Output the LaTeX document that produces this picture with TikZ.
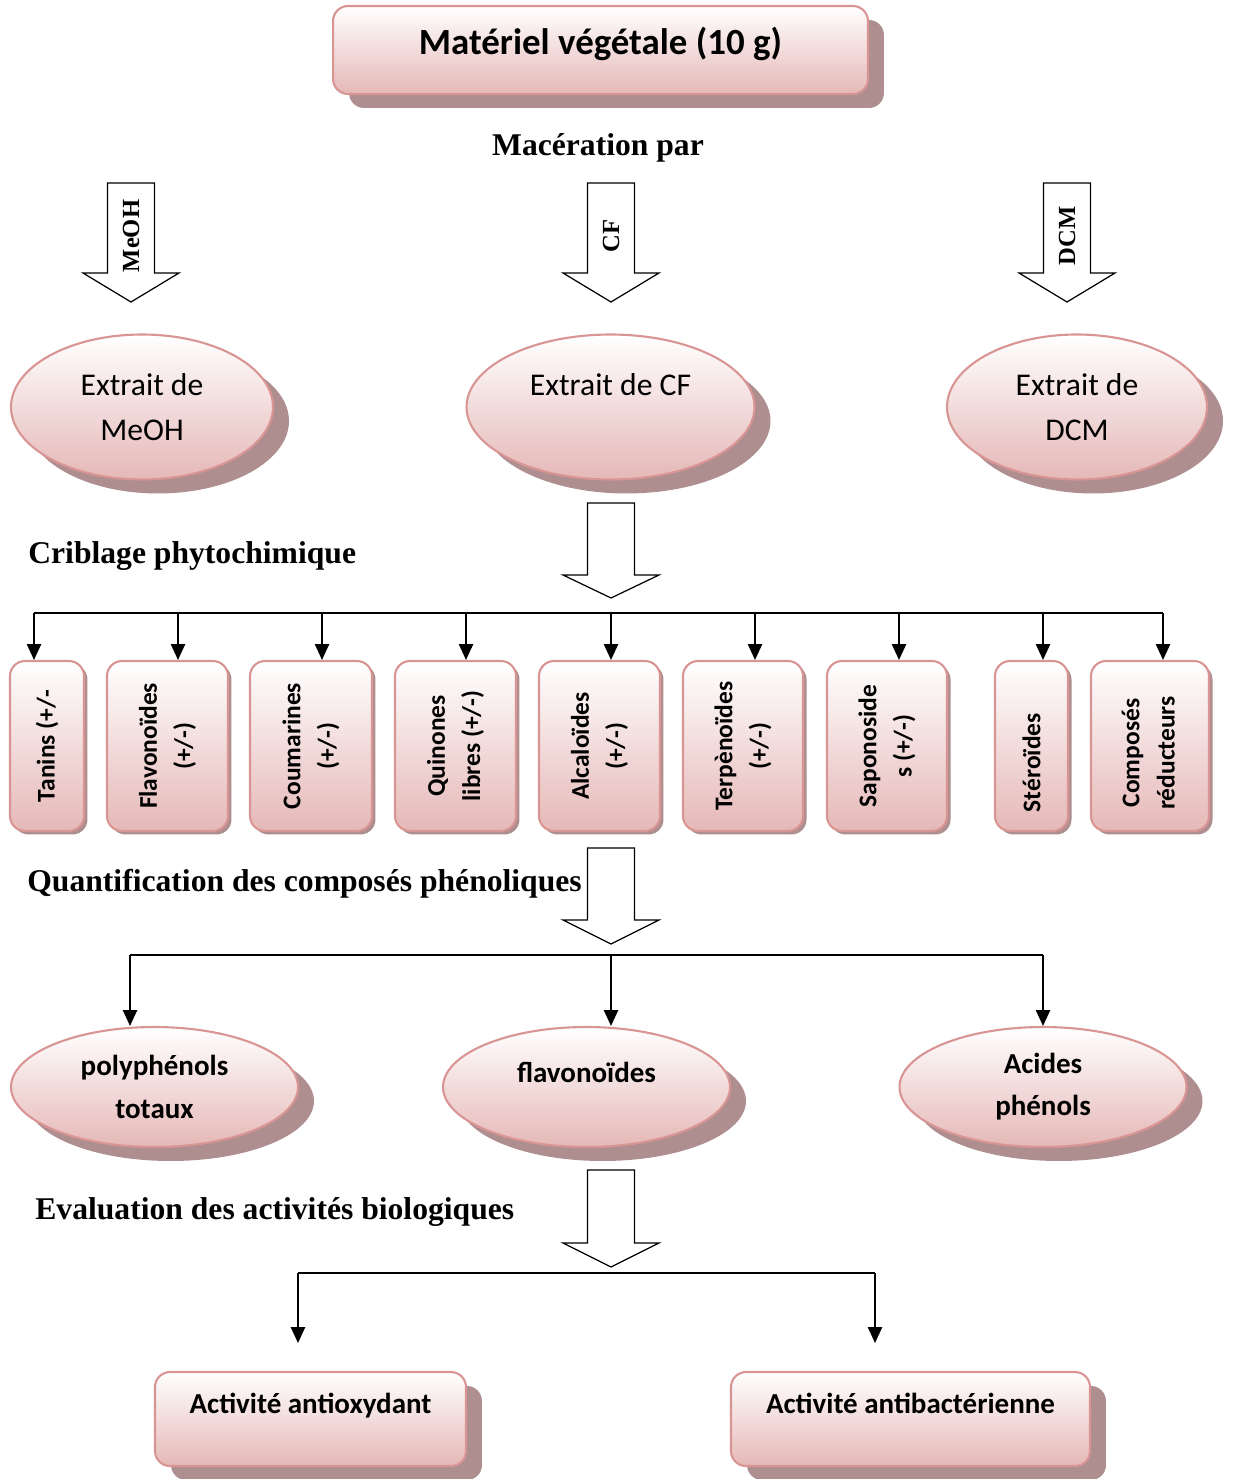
\documentclass[tikz,border=0pt]{standalone}
\usepackage{fontspec}
\setmainfont{Carlito}
\newfontfamily\tnr{Liberation Serif}
\usetikzlibrary{arrows.meta,shapes.geometric,shadows}

\definecolor{rimpink}{HTML}{D99594}
\definecolor{lowpink}{HTML}{E5B8B7}
\definecolor{shadepink}{HTML}{AE8E8F}

% hollow block arrow: name of tip, centre x, top y, head y, tip y
\newcommand{\blockarr}[5]{%
  \draw[barrow] (#2-23.5,#3) -- (#2+23.5,#3) -- (#2+23.5,#4) -- (#2+48,#4)
    -- (#2,#5) -- (#2-48,#4) -- (#2-23.5,#4) -- cycle;
  \coordinate (#1) at (#2,#5);}

\begin{document}
\begin{tikzpicture}[
    x=0.02cm, y=-0.02cm, % one unit = one pixel of the reference
    >={Triangle[width=8pt,length=9pt]}, % default arrow tip
    conn/.style={line width=1.1pt},
    arr/.style={->, line width=1.1pt},
    barrow/.style={draw, line width=0.7pt, fill=white},
    pinkfill/.style={draw=rimpink, line width=1.2pt, top color=white, bottom color=lowpink},
    bigshadow/.style={drop shadow={shadow xshift=0.32cm, shadow yshift=-0.28cm, fill=shadepink, opacity=1}},
    smallshadow/.style={drop shadow={shadow xshift=0.07cm, shadow yshift=-0.07cm, fill=shadepink, opacity=1}},
    lbl/.style={font=\tnr\bfseries\fontsize{18}{22}\selectfont, inner sep=0pt},
    arlbl/.style={font=\tnr\bfseries\fontsize{14}{16}\selectfont, inner sep=0pt, rotate=90},
    extract/.style={ellipse, pinkfill, bigshadow, inner sep=0pt, align=center,
      minimum height=2.9cm, font=\fontsize{18}{25.5}\selectfont},
    phenol/.style={ellipse, pinkfill, bigshadow, inner sep=0pt, align=center,
      minimum height=2.4cm, minimum width=5.74cm, font=\bfseries\fontsize{16.5}{24}\selectfont},
    testbox/.style={rectangle, rounded corners=0.3cm, pinkfill, smallshadow, inner sep=0pt,
      minimum height=3.4cm, font=\bfseries\fontsize{14.5}{20}\selectfont},
    actbox/.style={rectangle, rounded corners=0.3cm, pinkfill, bigshadow, inner sep=0pt, align=center,
      minimum height=1.88cm, font=\bfseries\fontsize{16.5}{26}\selectfont,
      text height=12pt, text depth=18pt}
]
    \useasboundingbox (0,0) rectangle (1232,1479);

    % Plant material
    \node[rectangle, rounded corners=0.3cm, pinkfill, bigshadow, minimum width=10.7cm,
      minimum height=1.76cm, font=\bfseries\fontsize{21}{25}\selectfont, text depth=10pt] (plant) at (600.5,50)
      {Matériel végétale (10 g)};
    \node[lbl] (macer) at (598,148) {Macération par};

    % Solvent arrows
    \blockarr{tipMeOH}{131}{183}{273}{302}
    \blockarr{tipCF}{611}{183}{273}{302}
    \blockarr{tipDCM}{1067}{183}{273}{302}
    \node[arlbl] (lMeOH) at (131,236) {MeOH};
    \node[arlbl] (lCF) at (611,236) {CF};
    \node[arlbl] (lDCM) at (1067,236) {DCM};

    % Extracts
    \node[extract, minimum width=5.24cm] (exMeOH) at (142,407) {Extrait de\\MeOH};
    \node[extract, minimum width=5.76cm, text height=12.5pt, text depth=26pt] (exCF) at (610.5,407) {Extrait de CF};
    \node[extract, minimum width=5.2cm] (exDCM) at (1077,407) {Extrait de\\DCM};

    % Phytochemical screening
    \node[lbl, anchor=west] (crib) at (28,556) {Criblage phytochimique};
    \blockarr{tipCrib}{611}{503}{575}{598}

    \node[testbox, minimum width=1.48cm] (tanins) at (47,746) {\rotatebox{90}{Tanins (+/-}};
    \node[testbox, minimum width=2.42cm] (flavo) at (167.5,746)
      {\rotatebox{90}{\begin{tabular}{@{}c@{}}Flavonoïdes\\(+/-)\end{tabular}}};
    \node[testbox, minimum width=2.44cm] (couma) at (311,746)
      {\rotatebox{90}{\begin{tabular}{@{}c@{}}Coumarines\\(+/-)\end{tabular}}};
    \node[testbox, minimum width=2.42cm] (quino) at (455.5,746)
      {\rotatebox{90}{\begin{tabular}{@{}c@{}}Quinones\\libres (+/-)\end{tabular}}};
    \node[testbox, minimum width=2.42cm] (alcalo) at (599.5,746)
      {\rotatebox{90}{\begin{tabular}{@{}c@{}}Alcaloïdes\\(+/-)\end{tabular}}};
    \node[testbox, minimum width=2.4cm] (terpe) at (743,746)
      {\rotatebox{90}{\begin{tabular}{@{}c@{}}Terpènoïdes\\(+/-)\end{tabular}}};
    \node[testbox, minimum width=2.4cm] (sapo) at (887,746)
      {\rotatebox{90}{\begin{tabular}{@{}c@{}}Saponoside\\s (+/-)\end{tabular}}};
    \node[testbox, minimum width=1.46cm] (stero) at (1031.5,746) {\rotatebox{90}{Stéroïdes\hspace{19pt}}};
    \node[testbox, minimum width=2.36cm] (compo) at (1150,746)
      {\rotatebox{90}{\begin{tabular}{@{}c@{}}Composés\\réducteurs\end{tabular}\hspace{8pt}}};

    \coordinate (busL) at (34,613);
    \coordinate (busR) at (1163,613);
    \draw[conn] (busL) -- (busR);
    \foreach \n/\x in {tanins/34, flavo/178, couma/322, quino/466, alcalo/611,
                       terpe/755, sapo/899, stero/1043, compo/1163} {
        \coordinate (t\n) at (\x,613);
        \draw[arr] (t\n) -- (t\n |- \n.north);
    }

    % Phenolic compounds
    \node[lbl, anchor=west] (quant) at (27,884) {Quantification des composés phénoliques};
    \blockarr{tipQuant}{611}{848}{920}{944}

    \node[phenol] (polyph) at (154.5,1087) {polyphénols\\totaux};
    \node[phenol, text height=11.5pt, text depth=17pt] (flavq) at (586.5,1087) {flavonoïdes};
    \node[phenol] (acid) at (1043,1087) {Acides\\phénols};

    \coordinate (qL) at (130,955);
    \coordinate (qM) at (611,955);
    \coordinate (qR) at (1043,955);
    \draw[conn] (qL) -- (qR);
    \draw[arr] (qL) -- (qL |- polyph.north);
    \draw[arr] (qM) -- (qM |- flavq.north);
    \draw[arr] (qR) -- (qR |- acid.north);

    % Biological activities
    \node[lbl, anchor=west] (evalu) at (35,1212) {Evaluation des activités biologiques};
    \blockarr{tipEval}{611}{1170}{1243}{1267}

    \coordinate (aL) at (298,1273);
    \coordinate (aR) at (875,1273);
    \coordinate (endL) at (298,1343);
    \coordinate (endR) at (875,1343);
    \draw[conn] (aL) -- (aR);
    \draw[arr] (aL) -- (endL);
    \draw[arr] (aR) -- (endR);

    \node[actbox, minimum width=6.22cm] (antiox) at (310.5,1419) {Activité antioxydant};
    \node[actbox, minimum width=7.18cm] (antibac) at (910.5,1419) {Activité antibactérienne};

\end{tikzpicture}
\end{document}
